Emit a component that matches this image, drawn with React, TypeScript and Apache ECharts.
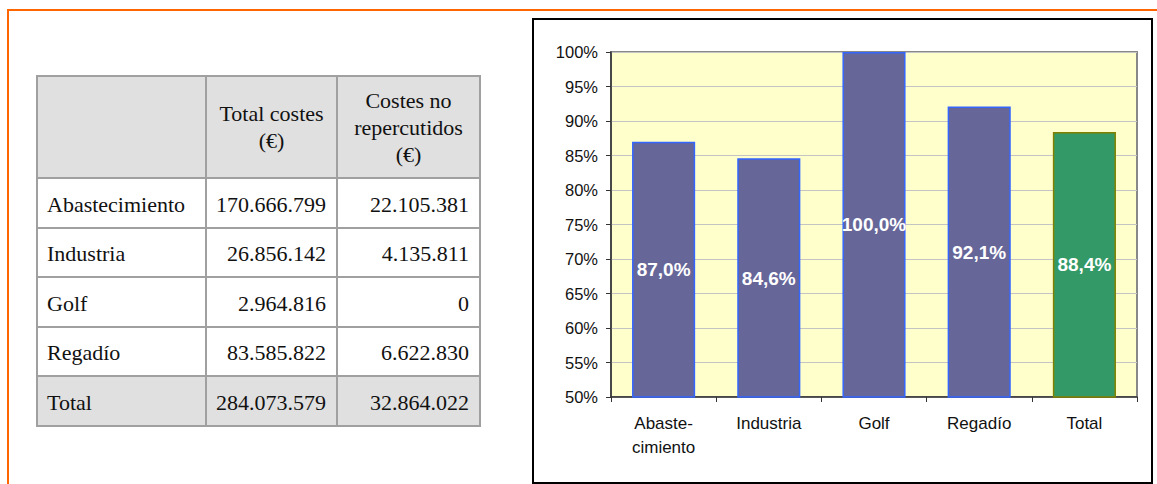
import React, { useEffect, useRef } from "react";
import * as echarts from "echarts";

// ---- Chart data ----
const categories = ["Abaste-\ncimiento", "Industria", "Golf", "Regadío", "Total"];
const percentValues = [87.0, 84.6, 100.0, 92.1, 88.4];
const yMin = 50;
const yMax = 100;
const yInterval = 5;

// ---- Table data ----
const tableHeaders = ["", "Total costes\n(€)", "Costes no\nrepercutidos\n(€)"];
const tableRowNames = ["Abastecimiento", "Industria", "Golf", "Regadío", "Total"];
const totalCosts = ["170.666.799", "26.856.142", "2.964.816", "83.585.822", "284.073.579"];
const unrecoveredCosts = ["22.105.381", "4.135.811", "0", "6.622.830", "32.864.022"];

const SERIF = "Liberation Serif";
const SANS = "Arial, 'Liberation Sans', sans-serif";

function buildTableGraphics(): any[] {
  const colX = [37, 206, 337, 480];
  const rowY = [76, 178, 228, 277, 327, 376, 426];
  const border = "#a0a0a0";
  const shade = "#e0e0e0";
  const els: any[] = [];
  els.push({ type: "rect", shape: { x: colX[0], y: rowY[0], width: colX[3] - colX[0], height: rowY[1] - rowY[0] }, style: { fill: shade } });
  els.push({ type: "rect", shape: { x: colX[0], y: rowY[5], width: colX[3] - colX[0], height: rowY[6] - rowY[5] }, style: { fill: shade } });
  rowY.forEach((y) => {
    els.push({ type: "line", shape: { x1: colX[0] - 1, y1: y, x2: colX[3] + 1, y2: y }, style: { stroke: border, lineWidth: 2 } });
  });
  colX.forEach((x) => {
    els.push({ type: "line", shape: { x1: x, y1: rowY[0], x2: x, y2: rowY[6] }, style: { stroke: border, lineWidth: 2 } });
  });
  const txt = (text: string, x: number, y: number, align: string, lineHeight?: number) => ({
    type: "text",
    style: {
      text,
      x,
      y,
      fontFamily: SERIF,
      fontSize: 22,
      lineHeight: lineHeight || 26,
      fill: "#111",
      textAlign: align,
      textVerticalAlign: "middle",
    },
  });
  tableHeaders.forEach((h, c) => {
    if (!h) return;
    els.push(txt(h, (colX[c] + colX[c + 1]) / 2, (rowY[0] + rowY[1]) / 2, "center", 27));
  });
  tableRowNames.forEach((name, r) => {
    const cy = (rowY[r + 1] + rowY[r + 2]) / 2 + 1;
    els.push(txt(name, colX[0] + 10, cy, "left"));
    els.push(txt(totalCosts[r], colX[2] - 11, cy, "right"));
    els.push(txt(unrecoveredCosts[r], colX[3] - 11, cy, "right"));
  });
  return els;
}

export default function App() {
  const ref = useRef<HTMLDivElement>(null);
  useEffect(() => {
    if (!ref.current) return;
    const chart = echarts.init(ref.current, undefined, { renderer: "svg" });
    const lastIdx = percentValues.length - 1;
    const option: any = {
      animation: false,
      backgroundColor: "#ffffff",
      graphic: [
        { type: "line", shape: { x1: 8, y1: 10, x2: 1157, y2: 10 }, style: { stroke: "#ff6600", lineWidth: 2 } },
        { type: "line", shape: { x1: 8, y1: 9, x2: 8, y2: 484 }, style: { stroke: "#ff6600", lineWidth: 2 } },
        { type: "rect", shape: { x: 533, y: 19, width: 619, height: 464 }, style: { fill: "none", stroke: "#000", lineWidth: 2 } },
        ...buildTableGraphics(),
      ],
      grid: {
        left: 611,
        top: 52,
        width: 526,
        height: 345,
        show: true,
        backgroundColor: "#ffffcc",
        borderColor: "#888888",
        borderWidth: 2,
      },
      xAxis: {
        type: "category",
        data: categories,
        boundaryGap: true,
        axisLine: { show: true, lineStyle: { color: "#333", width: 1.5 } },
        axisTick: { show: true, alignWithLabel: false, length: 5, inside: false, lineStyle: { color: "#333" } },
        axisLabel: { color: "#111", fontFamily: SANS, fontSize: 17, lineHeight: 24, margin: 14, interval: 0 },
        splitLine: { show: false },
      },
      yAxis: {
        type: "value",
        min: yMin,
        max: yMax,
        interval: yInterval,
        axisLine: { show: true, lineStyle: { color: "#333", width: 1.5 } },
        axisTick: { show: true, length: 5, lineStyle: { color: "#333" } },
        axisLabel: { color: "#111", fontFamily: SANS, fontSize: 16.5, margin: 13, formatter: "{value}%" },
        splitLine: { show: true, lineStyle: { color: "#c4c4c4", width: 1 } },
      },
      series: [
        {
          type: "bar",
          barWidth: "60%",
          data: percentValues.map((v, i) => ({
            value: v,
            itemStyle:
              i === lastIdx
                ? { color: "#339966", borderColor: "#808000", borderWidth: 1.5 }
                : { color: "#666699", borderColor: "#3366ff", borderWidth: 1.5 },
          })),
          label: {
            show: true,
            position: "inside",
            color: "#ffffff",
            fontFamily: SANS,
            fontWeight: "bold",
            fontSize: 19,
            formatter: (p: any) => p.value.toFixed(1).replace(".", ",") + "%",
          },
        },
      ],
    };
    chart.setOption(option);
    return () => chart.dispose();
  }, []);
  return (
    <div
      ref={ref}
      style={{ position: "fixed", left: 0, top: 0, width: 1157, height: 484 }}
    />
  );
}
